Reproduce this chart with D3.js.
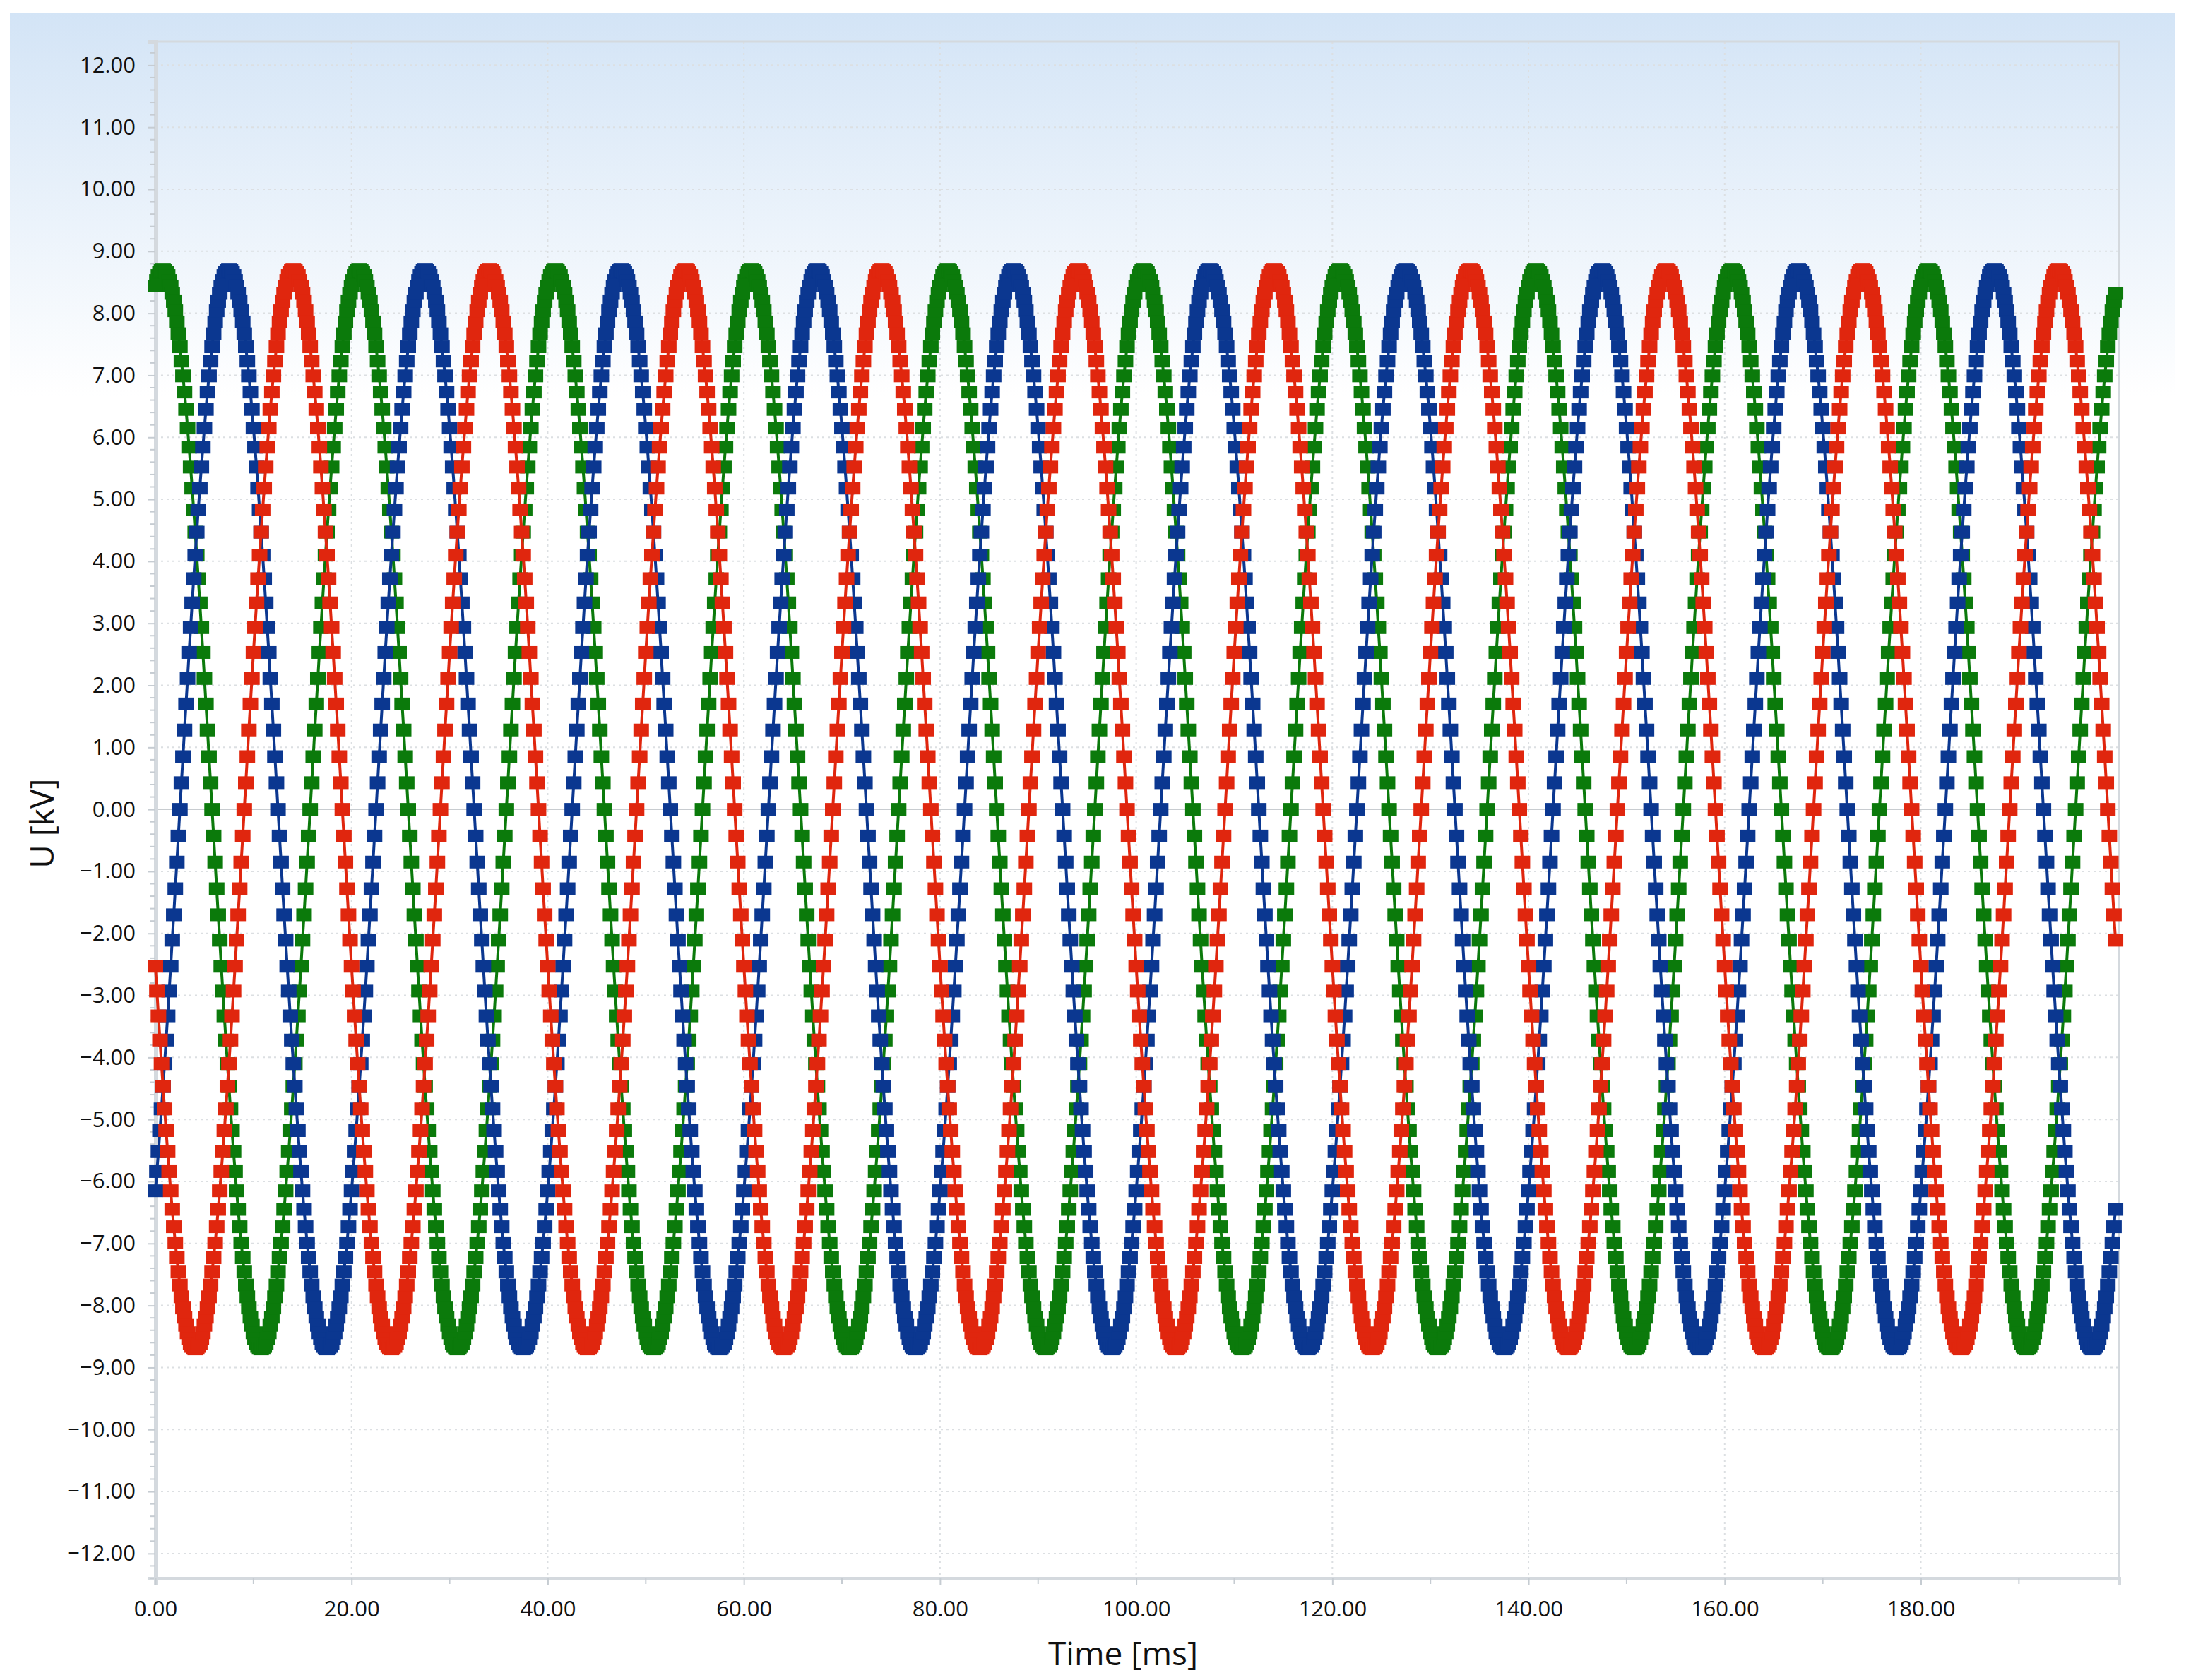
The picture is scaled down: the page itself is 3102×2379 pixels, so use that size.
<!DOCTYPE html>
<html>
<head>
<meta charset="utf-8">
<script src="https://cdn.jsdelivr.net/npm/d3@7"></script>
<style>
  body { margin: 0; background: #fff; }
  text { font-family: "Open Sans", "Noto Sans", sans-serif; }
</style>
</head>
<body>
<div id="chart"></div>
<script>
// one recorded cycle of the sampled waveform (kV), 128 samples per 20 ms, starting at the peak
const cycle = [
  8.70, 8.69, 8.66, 8.61, 8.53, 8.44, 8.32, 8.19, 8.04, 7.86, 7.67, 7.46, 7.23, 6.99, 6.73, 6.45,
  6.15, 5.84, 5.52, 5.18, 4.83, 4.47, 4.10, 3.72, 3.33, 2.93, 2.53, 2.11, 1.70, 1.28, 0.85, 0.43,
  0.00, -0.43, -0.85, -1.28, -1.70, -2.11, -2.53, -2.93, -3.33, -3.72, -4.10, -4.47, -4.83, -5.18, -5.52, -5.84,
  -6.15, -6.45, -6.73, -6.99, -7.23, -7.46, -7.67, -7.86, -8.04, -8.19, -8.32, -8.44, -8.53, -8.61, -8.66, -8.69,
  -8.70, -8.69, -8.66, -8.61, -8.53, -8.44, -8.32, -8.19, -8.04, -7.86, -7.67, -7.46, -7.23, -6.99, -6.73, -6.45,
  -6.15, -5.84, -5.52, -5.18, -4.83, -4.47, -4.10, -3.72, -3.33, -2.93, -2.53, -2.11, -1.70, -1.28, -0.85, -0.43,
  0.00, 0.43, 0.85, 1.28, 1.70, 2.11, 2.53, 2.93, 3.33, 3.72, 4.10, 4.47, 4.83, 5.18, 5.52, 5.84,
  6.15, 6.45, 6.73, 6.99, 7.23, 7.46, 7.67, 7.86, 8.04, 8.19, 8.32, 8.44, 8.53, 8.61, 8.66, 8.69
];
const sampleStep = 0.15625;   // ms
const sampleCount = 1280;
// where each phase sits in the cycle at t = 0
const phaseNames = ["L1", "L2", "L3"];
const phaseStart = [123, 80, 38];
const phaseColors = ["#0b7a0b", "#0b3790", "#e0260e"];

const yTicks = d3.range(-12, 13, 1);
const xTicks = [0, 20, 40, 60, 80, 100, 120, 140, 160, 180];

const series = phaseNames.map((name, p) => ({
  name, color: phaseColors[p],
  values: d3.range(sampleCount).map(k => ({ t: k * sampleStep, u: cycle[(k + phaseStart[p]) % cycle.length] }))
}));

const W = 3102, H = 2379;
const pLeft = 220, pRight = 3000, pTop = 59, pBottom = 2235;

const svg = d3.select("#chart").append("svg").attr("width", W).attr("height", H);

// background panel with the blue fade at the top
const grad = svg.append("defs").append("linearGradient").attr("id", "bg").attr("x1", 0).attr("x2", 0).attr("y1", 0).attr("y2", 1);
grad.append("stop").attr("offset", "0").attr("stop-color", "#d3e4f6");
grad.append("stop").attr("offset", "0.23").attr("stop-color", "#ffffff");
grad.append("stop").attr("offset", "1").attr("stop-color", "#ffffff");
svg.append("rect").attr("x", 14).attr("y", 18).attr("width", 3066).attr("height", 2361).attr("fill", "url(#bg)");

const x = d3.scaleLinear().domain([0, 200.2]).range([pLeft, pRight]);
const y = d3.scaleLinear().domain([-12.4, 12.38]).range([pBottom, pTop]);

// grid
svg.append("g").selectAll("line").data(yTicks).join("line")
  .attr("x1", pLeft).attr("x2", pRight).attr("y1", d => y(d)).attr("y2", d => y(d))
  .attr("stroke", d => d === 0 ? "#c8ccd0" : "#dcdfe2")
  .attr("stroke-width", 2)
  .attr("stroke-dasharray", d => d === 0 ? null : "3,5");
svg.append("g").selectAll("line").data(xTicks).join("line")
  .attr("x1", d => x(d)).attr("x2", d => x(d)).attr("y1", pTop).attr("y2", pBottom)
  .attr("stroke", "#dcdfe2").attr("stroke-width", 2).attr("stroke-dasharray", "3,5");

// plot frame
svg.append("rect").attr("x", pLeft).attr("y", pTop).attr("width", pRight - pLeft).attr("height", pBottom - pTop)
  .attr("fill", "none").attr("stroke", "#d4d9de").attr("stroke-width", 3);

// axes
const yAxis = svg.append("g").attr("transform", `translate(${pLeft},0)`)
  .call(d3.axisLeft(y).tickValues(yTicks).tickSize(10).tickPadding(18)
    .tickFormat(d => (d < 0 ? "\u2212" : "") + Math.abs(d).toFixed(2)));
const minorY = d3.range(-12.4, 12.4, 0.2).filter(v => Math.abs(v - Math.round(v)) > 0.05);
svg.append("g").selectAll("line").data(minorY).join("line")
  .attr("x1", pLeft - 8).attr("x2", pLeft).attr("y1", d => y(d)).attr("y2", d => y(d))
  .attr("stroke", "#c6ccd2").attr("stroke-width", 2);
const xAxis = svg.append("g").attr("transform", `translate(0,${pBottom})`)
  .call(d3.axisBottom(x).tickValues(xTicks).tickSize(10).tickPadding(22).tickFormat(d => d.toFixed(2)));
const minorX = d3.range(10, 200, 20);
svg.append("g").selectAll("line").data(minorX).join("line")
  .attr("x1", d => x(d)).attr("x2", d => x(d)).attr("y1", pBottom).attr("y2", pBottom + 8)
  .attr("stroke", "#c6ccd2").attr("stroke-width", 2);
[yAxis, xAxis].forEach(a => {
  a.select(".domain").attr("stroke", "#d4d9de").attr("stroke-width", 5);
  a.selectAll(".tick line").attr("stroke", "#c6ccd2").attr("stroke-width", 2);
  a.selectAll(".tick text").attr("fill", "#111").style("font-size", "31px");
});

// axis titles
svg.append("text").attr("x", (pLeft + pRight) / 2 - 20).attr("y", 2358).attr("text-anchor", "middle")
  .style("font-size", "46px").attr("fill", "#111").text("Time [ms]");
svg.append("text").attr("transform", `translate(76,${y(0) + 20}) rotate(-90)`).attr("text-anchor", "middle")
  .style("font-size", "46px").attr("fill", "#111").text("U [kV]");

// series
const line = d3.line().x(d => x(d.t)).y(d => y(d.u));
const plot = svg.append("g");
series.forEach(s => {
  const g = plot.append("g");
  g.append("path").datum(s.values).attr("d", line).attr("fill", "none")
    .attr("stroke", s.color).attr("stroke-width", 4);
  g.selectAll("rect").data(s.values).join("rect")
    .attr("x", d => x(d.t) - 11).attr("y", d => y(d.u) - 9)
    .attr("width", 22).attr("height", 18).attr("fill", s.color);
});
</script>
</body>
</html>
